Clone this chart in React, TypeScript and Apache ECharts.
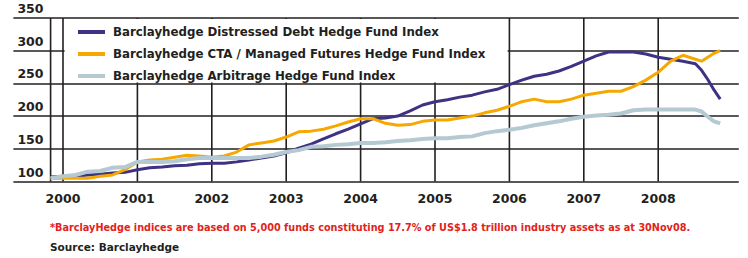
import React, { useEffect, useRef } from "react";
import * as echarts from "echarts";

// month index: 0 = Jan 2000
const months = [
  -2, 0, 2, 4, 6, 8, 10, 12, 14, 16, 18, 20, 22, 24, 26, 28, 30, 32, 34, 36, 38, 40, 42, 44, 46, 48,
  50, 52, 54, 56, 58, 60, 62, 64, 66, 68, 70, 72, 74, 76, 78, 80, 82, 84, 86, 88, 90, 92, 94, 96, 98,
  100, 102, 103, 104, 105, 106,
];

const distressed = [
  107, 108, 108, 110, 111, 113, 114, 118, 121, 122, 124, 125, 127, 128, 128, 130, 133, 136, 139, 144,
  151, 157, 165, 173, 180, 188, 196, 197, 200, 208, 217, 222, 225, 229, 232, 237, 241, 248, 255, 261,
  264, 269, 276, 284, 292, 298, 298, 298, 295, 290, 287, 284, 280, 270, 256, 240, 226,
];

const cta = [
  105, 105, 105, 105, 108, 110, 118, 130, 133, 134, 137, 140, 139, 137, 139, 145, 156, 159, 162, 168,
  176, 177, 180, 185, 191, 196, 196, 189, 186, 187, 192, 194, 194, 197, 200, 205, 209, 215, 222, 226,
  222, 222, 226, 232, 235, 238, 238, 245, 255, 267, 284, 293, 287, 284, 290, 296, 300,
];

const arbitrage = [
  105, 108, 110, 115, 116, 121, 122, 130, 130, 130, 131, 134, 136, 136, 136, 136, 136, 138, 141, 145,
  148, 153, 154, 156, 157, 159, 159, 160, 162, 163, 165, 166, 166, 168, 169, 174, 177, 179, 182, 186,
  189, 192, 196, 199, 201, 202, 204, 209, 210, 210, 210, 210, 210, 207, 199, 192, 189,
];

const seriesNames = [
  "Barclayhedge Distressed Debt Hedge Fund Index",
  "Barclayhedge CTA / Managed Futures Hedge Fund Index",
  "Barclayhedge Arbitrage Hedge Fund Index",
];
const seriesColors = ["#3d3284", "#f6a800", "#b4c9d1"];

const yearTicks = [0, 12, 24, 36, 48, 60, 72, 84, 96];
const yearLabels = ["2000", "2001", "2002", "2003", "2004", "2005", "2006", "2007", "2008"];
const startMonth = -2;
const axisMonthMin = -8;
const axisMonthMax = 109;
const yMin = 100;
const yMax = 350;

const footnote =
  "*BarclayHedge indices are based on 5,000 funds constituting 17.7% of US$1.8 trillion industry assets as at 30Nov08.";
const source = "Source: Barclayhedge";

export default function App() {
  const ref = useRef<HTMLDivElement>(null);

  useEffect(() => {
    const chart = echarts.init(ref.current!, null, { renderer: "svg" });
    const fontFamily = "'DejaVu Sans', sans-serif";
    const ink = "#231f20";
    const pair = (vals: number[]) => months.map((m, i) => [m, vals[i]]);
    const widths = [3, 3, 4];

    const monthCats: string[] = [];
    for (let m = axisMonthMin; m <= axisMonthMax; m++) monthCats.push(String(m));
    const isYear = (idx: number) => yearTicks.indexOf(axisMonthMin + idx) >= 0;

    // vertical gridlines drawn as two-point line series on the value x axis
    const gridSeries = [startMonth, ...yearTicks].map((m, i) => ({
      type: "line",
      name: "vgrid" + i,
      xAxisIndex: 0,
      z: 1,
      data: [
        [m, yMin],
        [m, yMax],
      ],
      showSymbol: false,
      symbol: "none",
      color: ink,
      lineStyle: { color: ink, width: 1.6 },
      emphasis: { disabled: true },
      tooltip: { show: false },
    }));

    chart.setOption({
      animation: false,
      grid: { left: 13.4, right: 9.2, top: 18, bottom: 76.5 },
      xAxis: [
        {
          type: "value",
          min: axisMonthMin,
          max: axisMonthMax,
          axisLine: { show: false },
          axisTick: { show: false },
          axisLabel: { show: false },
          splitLine: { show: false },
        },
        {
          type: "category",
          data: monthCats,
          boundaryGap: false,
          position: "bottom",
          axisLine: { show: false },
          axisTick: { show: false },
          splitLine: { show: false },
          axisLabel: {
            interval: (idx: number) => isYear(idx),
            formatter: (v: string) => {
              const i = yearTicks.indexOf(Number(v));
              return i >= 0 ? yearLabels[i] : "";
            },
            margin: 10,
            fontFamily,
            fontWeight: "bold",
            fontSize: 12.5,
            color: ink,
          },
        },
      ],
      yAxis: {
        type: "value",
        min: yMin,
        max: yMax,
        interval: 50,
        axisLine: { show: false },
        axisTick: { show: false },
        splitLine: { lineStyle: { color: ink, width: 1.6 } },
        axisLabel: {
          inside: true,
          margin: 4,
          align: "left",
          verticalAlign: "bottom",
          padding: [0, 0, 3, 0],
          showMinLabel: true,
          showMaxLabel: true,
          fontFamily,
          fontWeight: "bold",
          fontSize: 12.5,
          color: ink,
        },
      },
      legend: {
        orient: "vertical",
        left: 78,
        top: 25,
        padding: 0,
        itemGap: 8,
        itemWidth: 27,
        itemHeight: 4,
        icon: "rect",
        z: 10,
        textStyle: {
          fontFamily,
          fontWeight: "bold",
          fontSize: 11.8,
          color: ink,
          lineHeight: 14,
          padding: [0, 0, 0, 3],
        },
        data: seriesNames,
      },
      graphic: [
        {
          type: "rect",
          z: 6,
          shape: { x: 64.6, y: 19, width: 443, height: 63.5 },
          style: { fill: "#ffffff" },
        },
        {
          type: "text",
          x: 50,
          y: 227,
          style: {
            text: footnote,
            fill: "#e2231a",
            font: `bold 9.7px ${fontFamily}`,
            verticalAlign: "middle",
          },
        },
        {
          type: "text",
          x: 50,
          y: 247,
          style: {
            text: source,
            fill: ink,
            font: `bold 10.5px ${fontFamily}`,
            verticalAlign: "middle",
          },
        },
      ],
      series: [
        ...gridSeries,
        ...[distressed, cta, arbitrage].map((vals, i) => ({
          type: "line",
          name: seriesNames[i],
          xAxisIndex: 0,
          z: 2 + i,
          data: pair(vals),
          showSymbol: false,
          symbol: "none",
          color: seriesColors[i],
          lineStyle: { color: seriesColors[i], width: widths[i] },
        })),
      ],
    });

    return () => chart.dispose();
  }, []);

  return (
    <div
      ref={ref}
      style={{ position: "absolute", left: 0, top: 0, width: 748, height: 258 }}
    />
  );
}
